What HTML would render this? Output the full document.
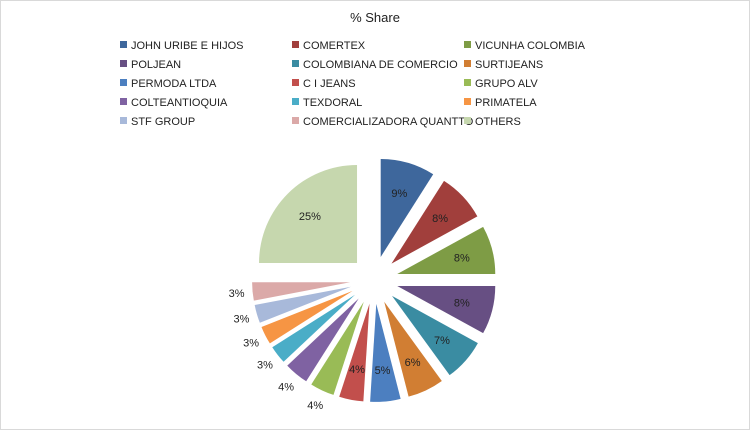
<!DOCTYPE html>
<html><head><meta charset="utf-8"><style>
body{margin:0;background:#fff;}
#wrap{position:relative;width:748px;height:428px;border:1px solid #d9d9d9;font-family:"Liberation Sans",sans-serif;}
svg text{font-family:"Liberation Sans",sans-serif;}
</style></head><body>
<div id="wrap">
<svg id="chart" width="748" height="428">
<text x="374" y="21" text-anchor="middle" font-size="13" fill="#222">% Share</text>
<g id="legend"></g>
<g id="slices"></g>
<g id="labels"></g>
</svg>
</div>
<script>
const categories=["JOHN URIBE E HIJOS","COMERTEX","VICUNHA COLOMBIA","POLJEAN","COLOMBIANA DE COMERCIO","SURTIJEANS","PERMODA LTDA","C I JEANS","GRUPO ALV","COLTEANTIOQUIA","TEXDORAL","PRIMATELA","STF GROUP","COMERCIALIZADORA QUANTTO","OTHERS"];
const shares=[9,8,8,8,7,6,5,4,4,4,3,3,3,3,25];
const colors=["#3E679C","#A13F3C","#7E9C45","#674F83","#3A8CA2","#D17E33","#4C7FC0","#C24F4C","#99BB56","#7F62A2","#4AADC7","#F69544","#A8B9DA","#DBA9A8","#C6D7AE"];
const NS="http://www.w3.org/2000/svg";
const svg=document.getElementById('chart');
const lg=document.getElementById('legend');
const sg=document.getElementById('slices');
const lb=document.getElementById('labels');
const cx=373,cy=279,R=98,D=24;
// legend
categories.forEach((c,i)=>{
  const col=i%3,row=Math.floor(i/3);
  const x=119+col*172,y=44+row*19;
  const r=document.createElementNS(NS,'rect');
  r.setAttribute('x',x);r.setAttribute('y',y-4);r.setAttribute('width',7);r.setAttribute('height',7);r.setAttribute('fill',colors[i]);
  
  
  lg.appendChild(r);
  const t=document.createElementNS(NS,'text');
  t.setAttribute('x',x+11);t.setAttribute('y',y+4);t.setAttribute('font-size','11');t.setAttribute('fill','#222');
  t.textContent=c;
  
  
  lg.appendChild(t);
});
const total=shares.reduce((a,b)=>a+b,0);
let cum=0;
function pt(x,y,a,r){return [x+r*Math.sin(a),y-r*Math.cos(a)];}
shares.forEach((v,i)=>{
  const a0=cum/total*2*Math.PI; cum+=v; const a1=cum/total*2*Math.PI;
  const am=(a0+a1)/2;
  const [ox,oy]=pt(cx,cy,am,D);
  const [x0,y0]=pt(ox,oy,a0,R),[x1,y1]=pt(ox,oy,a1,R);
  const large=(a1-a0)>Math.PI?1:0;
  const p=document.createElementNS(NS,'path');
  p.setAttribute('d',`M${ox},${oy}L${x0},${y0}A${R},${R} 0 ${large} 1 ${x1},${y1}Z`);
  p.setAttribute('fill',colors[i]);
  
  
  sg.appendChild(p);
  const inside=i<8||i===14;
  const [lx,ly]=inside?pt(ox,oy,am,R*0.68):pt(ox,oy,am,R+16);
  const t=document.createElementNS(NS,'text');
  t.setAttribute('x',lx);t.setAttribute('y',ly+4);t.setAttribute('text-anchor','middle');
  t.setAttribute('font-size','11');t.setAttribute('fill','#222');
  t.textContent=Math.round(v/total*100)+'%';
  
  
  lb.appendChild(t);
});
</script>
</body></html>
